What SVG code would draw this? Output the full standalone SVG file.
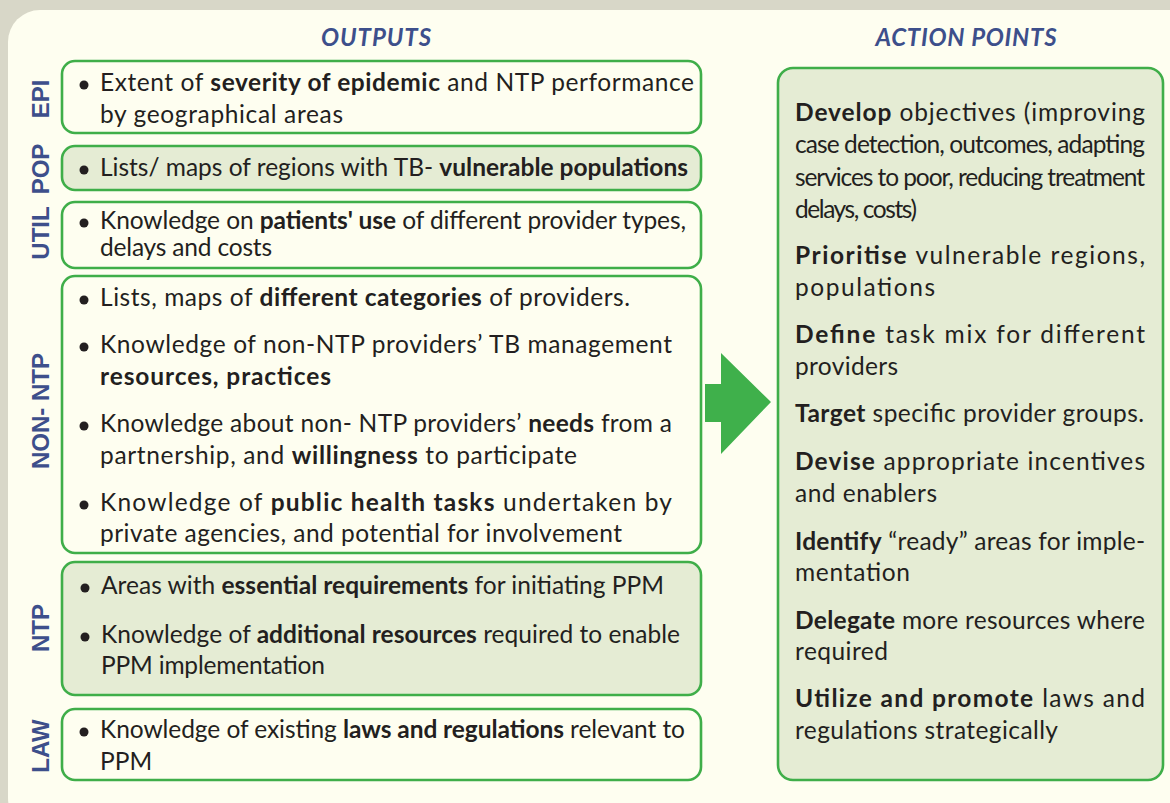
<svg xmlns="http://www.w3.org/2000/svg" width="1170" height="803" viewBox="0 0 1170 803">
<style>
.t{font-family:Lato,"Open Sans","Liberation Sans",sans-serif;font-size:24.5px;fill:#231f20}
.b{font-weight:bold}
.lab{font-family:"Liberation Sans",Arial,sans-serif;font-weight:bold;font-size:24px;fill:#3d4f8b;text-anchor:middle}
.hd{font-family:Lato,"Liberation Sans",sans-serif;font-weight:bold;font-style:italic;font-size:24px;fill:#3d4f8b;text-anchor:middle}
.bx{stroke:#3fae49;stroke-width:2.6;fill:#fefef0}
.gbx{stroke:#3fae49;stroke-width:2.6;fill:#e5ecd4}
.dot{fill:#231f20}
</style>
<rect width="1170" height="803" fill="#d8d7c8"/>
<rect x="8" y="10" width="1194" height="820" rx="32" fill="#fefef0"/>
<text class="hd" x="376" y="46" textLength="110">OUTPUTS</text>
<text class="hd" x="966" y="46" textLength="181">ACTION POINTS</text>

<g id="epi">
<rect class="bx" x="62" y="61" width="639" height="72" rx="13"/>
<text class="lab" transform="translate(49,99) rotate(-90)">EPI</text>
<circle class="dot" cx="84" cy="85" r="4.5"/>
<text class="t" x="100" y="91" textLength="594">Extent of <tspan class="b">severity of epidemic</tspan> and NTP performance</text>
<text class="t" x="100" y="123" textLength="243">by geographical areas</text>
</g>

<g id="pop">
<rect class="gbx" x="62" y="146" width="639" height="44" rx="13"/>
<text class="lab" transform="translate(49,169) rotate(-90)">POP</text>
<circle class="dot" cx="84" cy="170" r="4.5"/>
<text class="t" x="100" y="176" textLength="588">Lists/ maps of regions with TB- <tspan class="b">vulnerable populations</tspan></text>
</g>

<g id="util">
<rect class="bx" x="62" y="202" width="639" height="66" rx="13"/>
<text class="lab" transform="translate(49,233) rotate(-90)">UTIL</text>
<circle class="dot" cx="84" cy="223" r="4.5"/>
<text class="t" x="100" y="229" textLength="586">Knowledge on <tspan class="b">patients' use</tspan> of different provider types,</text>
<text class="t" x="100" y="256" textLength="172">delays and costs</text>
</g>

<g id="nonntp">
<rect class="bx" x="62" y="276" width="639" height="277" rx="13"/>
<text class="lab" transform="translate(49,411) rotate(-90)">NON- NTP</text>
<circle class="dot" cx="84" cy="300" r="4.5"/>
<text class="t" x="100" y="306" textLength="530">Lists, maps of <tspan class="b">different categories</tspan> of providers.</text>
<circle class="dot" cx="84" cy="347" r="4.5"/>
<text class="t" x="100" y="353" textLength="572">Knowledge of non-NTP providers’ TB management</text>
<text class="t b" x="100" y="385" textLength="231">resources, practices</text>
<circle class="dot" cx="84" cy="426" r="4.5"/>
<text class="t" x="100" y="432" textLength="572">Knowledge about non- NTP providers’ <tspan class="b">needs</tspan> from a</text>
<text class="t" x="100" y="464" textLength="477">partnership, and <tspan class="b">willingness</tspan> to participate</text>
<circle class="dot" cx="84" cy="505" r="4.5"/>
<text class="t" x="100" y="511" textLength="572">Knowledge of <tspan class="b">public health tasks</tspan> undertaken by</text>
<text class="t" x="100" y="542" textLength="522">private agencies, and potential for involvement</text>
</g>

<g id="ntp">
<rect class="gbx" x="62" y="562" width="639" height="133" rx="13"/>
<text class="lab" transform="translate(49,628) rotate(-90)">NTP</text>
<circle class="dot" cx="85" cy="588" r="4.5"/>
<text class="t" x="101" y="594" textLength="563">Areas with <tspan class="b">essential requirements</tspan> for initiating PPM</text>
<circle class="dot" cx="85" cy="637" r="4.5"/>
<text class="t" x="101" y="643" textLength="579">Knowledge of <tspan class="b">additional resources</tspan> required to enable</text>
<text class="t" x="101" y="674" textLength="224">PPM implementation</text>
</g>

<g id="law">
<rect class="bx" x="62" y="709" width="639" height="71" rx="13"/>
<text class="lab" transform="translate(49,746) rotate(-90)">LAW</text>
<circle class="dot" cx="84" cy="732" r="4.5"/>
<text class="t" x="100" y="738" textLength="585">Knowledge of existing <tspan class="b">laws and regulations</tspan> relevant to</text>
<text class="t" x="100" y="770">PPM</text>
</g>

<g id="connectors">
<polygon points="705,384 721,384 721,353 771,402 721,454 721,422 705,422" fill="#3fb04b"/>
</g>

<g id="actions">
<rect class="gbx" x="778" y="68" width="385" height="712" rx="15"/>
<text class="t" x="795" y="121" textLength="350"><tspan class="b">Develop</tspan> objectives (improving</text>
<text class="t" x="795" y="153" textLength="350">case detection, outcomes, adapting</text>
<text class="t" x="795" y="186" textLength="350">services to poor, reducing treatment</text>
<text class="t" x="795" y="218" textLength="122">delays, costs)</text>
<text class="t" x="795" y="264" textLength="350"><tspan class="b">Prioritise</tspan> vulnerable regions,</text>
<text class="t" x="795" y="296" textLength="140">populations</text>
<text class="t" x="795" y="343" textLength="350"><tspan class="b">Define</tspan> task mix for different</text>
<text class="t" x="795" y="375" textLength="103">providers</text>
<text class="t" x="795" y="422" textLength="349"><tspan class="b">Target</tspan> specific provider groups.</text>
<text class="t" x="795" y="470" textLength="350"><tspan class="b">Devise</tspan> appropriate incentives</text>
<text class="t" x="795" y="502" textLength="142">and enablers</text>
<text class="t" x="795" y="550" textLength="350"><tspan class="b">Identify</tspan> “ready” areas for imple-</text>
<text class="t" x="795" y="581" textLength="115">mentation</text>
<text class="t" x="795" y="629" textLength="350"><tspan class="b">Delegate</tspan> more resources where</text>
<text class="t" x="795" y="660" textLength="93">required</text>
<text class="t" x="795" y="707" textLength="350"><tspan class="b">Utilize and promote</tspan> laws and</text>
<text class="t" x="795" y="739" textLength="263">regulations strategically</text>
</g>
</svg>
